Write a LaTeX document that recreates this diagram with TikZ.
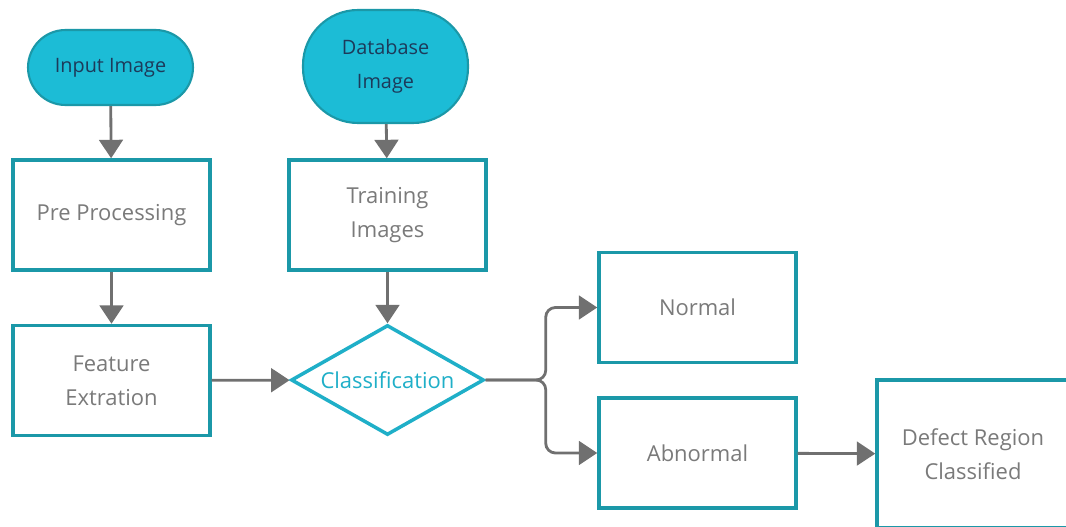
\documentclass[tikz,border=0pt]{standalone}
\usepackage{fontspec}
\setmainfont{Open Sans}
\usepackage{xcolor}
\usetikzlibrary{%
    shapes.geometric,%
    arrows.meta%
}
\definecolor{tealline}{HTML}{1B98A8}
\definecolor{cyanfill}{HTML}{1CBCD6}
\definecolor{cyanline}{HTML}{1FAFC8}
\definecolor{arrowgray}{HTML}{707070}
\definecolor{textgray}{HTML}{7A7A7A}
\definecolor{navytext}{HTML}{1D3A5A}

\begin{document}
\begin{tikzpicture}[
        x=0.02cm, y=-0.02cm,
        label/.style={font={\fontsize{12.5}{19.5}\selectfont}, align=center, inner sep=0pt},
        process/.style={label, draw=tealline, line width=2pt, fill=white,
            text=textgray, minimum width=3.94cm, minimum height=2.2cm},
        terminal/.style={label, font={\fontsize{11.3}{19}\selectfont},
            draw=tealline, line width=1.2pt, fill=cyanfill,
            text=navytext, minimum width=3.3cm},
        decision/.style={label, diamond, aspect=1.75, draw=cyanline, line width=2pt,
            fill=white, text=cyanline, minimum width=3.86cm, minimum height=2.2cm},
        flow/.style={draw=arrowgray, line width=1.6pt,
            -{Triangle[width=13.5pt,length=10.5pt]}},
        ]
        \useasboundingbox (0, 0) rectangle (1066, 527);

        % Start points
        \node[terminal, minimum height=1.5cm, rounded corners=0.75cm]
            (input) at (110.5, 67.5) {Input Image};
        \node[terminal, minimum height=2.26cm, rounded corners=1.1cm]
            (database) at (385.5, 66.5) {Database\\Image};

        % Left column
        \node[process] (pre) at (111.5, 215) {Pre Processing};
        \node[process] (feature) at (111.5, 380.5) {Feature\\Extration};

        % Middle column
        \node[process] (training) at (387.5, 215) {Training\\Images};
        \node[decision] (classify) at (387.5, 380) {Classification};

        % Results
        \node[process] (normal) at (697.5, 307.5) {Normal};
        \node[process] (abnormal) at (697.5, 453) {Abnormal};
        \node[process, minimum width=3.84cm, minimum height=2.96cm]
            (defect) at (973, 454) {Defect Region\\Classified};

        % Arrows
        \draw[flow] (input) -- (pre);
        \draw[flow] (pre) -- (feature);
        \draw[flow] (database) -- (training);
        \draw[flow] (training) -- (classify);
        \draw[flow] (feature) -- (classify);
        \draw[flow, rounded corners=5.5pt] (classify.east) -- ++(60, 0) |- (normal);
        \draw[flow, rounded corners=5.5pt] (classify.east) -- ++(60, 0) |- (abnormal);
        \draw[flow] (abnormal) -- (defect);
    \end{tikzpicture}
\end{document}
